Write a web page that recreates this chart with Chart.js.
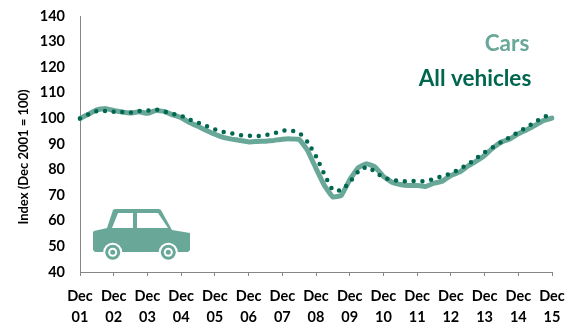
<!DOCTYPE html>
<html>
<head>
<meta charset="utf-8">
<style>html,body{margin:0;padding:0;background:#fff}canvas{display:block}</style>
<script src="https://cdn.jsdelivr.net/npm/chart.js@4"></script>
</head>
<body>
<canvas id="chart" width="579" height="329"></canvas>
<script>
// Quarterly price index, Dec 2001 to Dec 2015
const yearLabels = ['01','02','03','04','05','06','07','08','09','10','11','12','13','14','15'];
const yTicks = [40,50,60,70,80,90,100,110,120,130,140];
const cars = [100,101.6,103.3,103.9,103.1,102.5,102.1,102.6,102,103.1,102.7,101.4,100.3,98.4,96.9,95.3,93.8,92.6,91.9,91.4,90.8,91,91.1,91.4,91.9,92,91.8,87.5,80.5,73.8,69.3,69.9,76,80.7,82.3,81,77.3,75.1,74.2,73.8,73.8,73.4,74.7,75.5,77.7,79,81.3,83.3,85.5,88.5,90.8,92,94,95.6,97.3,99.2,100.1];
const allVehicles = [100,101.6,102.9,102.9,102.6,102.5,102.3,102.9,103,103.5,102.7,101.8,101,99.5,98.3,97,95.7,94.7,94.1,93.5,93.2,93.1,93.5,94.1,95.2,95.3,94.4,90.8,85.2,78.1,72,71.9,75,79.2,81.1,79.2,76.8,76,75.5,75.5,75.5,75.5,76.4,77.5,78.5,80.2,82,84.4,86.7,88.8,90.8,92.6,94.7,96.5,98.6,100.5,101.9];
const quarters = allVehicles.map((_, i) => i % 4 === 0 ? ['Dec', yearLabels[i / 4]] : '');

const carColor = '#69a898';
const vehicleColor = '#00664f';
const axisColor = '#868686';
const tickFont = { family: 'Lato', size: 14.5, weight: 'bold' };

// Axis title, series captions and the car pictogram inside the plot
const decorations = {
  id: 'decorations',
  afterDraw(chart) {
    const c = chart.ctx;
    c.save();
    c.textAlign = 'center';
    c.textBaseline = 'middle';

    c.save();
    c.translate(24, 157);
    c.rotate(-Math.PI / 2);
    c.font = 'bold 13px Lato';
    c.fillStyle = '#000';
    c.fillText('Index (Dec 2001 = 100)', 0, 0);
    c.restore();

    c.font = 'bold 22.5px Lato';
    c.fillStyle = carColor;
    c.fillText('Cars', 507, 44);
    c.fillStyle = vehicleColor;
    c.fillText('All vehicles', 475, 79);

    c.fillStyle = carColor;
    c.beginPath();
    c.moveTo(94, 231);
    c.lineTo(107, 228);
    c.lineTo(113, 210);
    c.lineTo(115, 209);
    c.lineTo(159, 209);
    c.lineTo(161, 210);
    c.lineTo(172, 230);
    c.lineTo(190, 233);
    c.lineTo(190, 250);
    c.lineTo(188, 252);
    c.lineTo(95, 252);
    c.lineTo(93, 250);
    c.lineTo(93, 232);
    c.closePath();
    c.fill();

    // windows
    c.fillStyle = '#fff';
    c.beginPath();
    c.moveTo(112, 228); c.lineTo(118, 213); c.lineTo(133, 213); c.lineTo(133, 228);
    c.closePath(); c.fill();
    c.beginPath();
    c.moveTo(137, 213); c.lineTo(158, 213); c.lineTo(168, 228); c.lineTo(137, 228);
    c.closePath(); c.fill();

    // wheels
    [112.7, 168.3].forEach(x => {
      [[9.5, '#fff'], [7.5, carColor], [4.5, '#fff'], [2.5, carColor]].forEach(([r, col]) => {
        c.fillStyle = col;
        c.beginPath();
        c.arc(x, 252.3, r, 0, Math.PI * 2);
        c.fill();
      });
    });
    c.restore();
  }
};

new Chart(document.getElementById('chart'), {
  type: 'line',
  plugins: [decorations],
  data: {
    labels: quarters,
    datasets: [
      {
        label: 'All vehicles',
        data: allVehicles,
        borderColor: vehicleColor,
        borderWidth: 4.5,
        borderDash: [0, 8.8],
        borderCapStyle: 'round',
        borderJoinStyle: 'round',
        pointRadius: 0,
        tension: 0.1,
        fill: false
      },
      {
        label: 'Cars',
        data: cars,
        borderColor: carColor,
        borderWidth: 5,
        borderCapStyle: 'round',
        borderJoinStyle: 'round',
        pointRadius: 0,
        tension: 0.1,
        fill: false
      }
    ]
  },
  options: {
    responsive: false,
    animation: false,
    layout: { autoPadding: false, padding: { left: 0, right: 27, top: 16, bottom: 0 } },
    plugins: { legend: { display: false }, tooltip: { enabled: false } },
    scales: {
      x: {
        type: 'category',
        offset: false,
        afterBuildTicks(scale) {
          scale.ticks = scale.ticks.filter(t => t.value % 4 === 0);
        },
        afterFit(scale) {
          scale.height = 57;
          scale.paddingLeft = 0;
          scale.paddingRight = 0;
        },
        grid: { drawOnChartArea: false, drawTicks: true, tickLength: 4, color: axisColor },
        border: { color: axisColor, width: 1 },
        ticks: {
          autoSkip: false,
          maxRotation: 0,
          minRotation: 0,
          padding: 9,
          color: '#000',
          font: { ...tickFont, lineHeight: 1.5 },
          callback(value) { return this.getLabelForValue(value); }
        }
      },
      y: {
        min: yTicks[0],
        max: yTicks[yTicks.length - 1],
        afterBuildTicks(scale) { scale.ticks = yTicks.map(value => ({ value })); },
        afterFit(scale) {
          scale.width = 80;
          scale.paddingTop = 0;
          scale.paddingBottom = 0;
        },
        grid: { drawOnChartArea: false, drawTicks: false },
        border: { color: axisColor, width: 1 },
        ticks: { padding: 15, color: '#000', font: tickFont }
      }
    }
  }
});
</script>
</body>
</html>
